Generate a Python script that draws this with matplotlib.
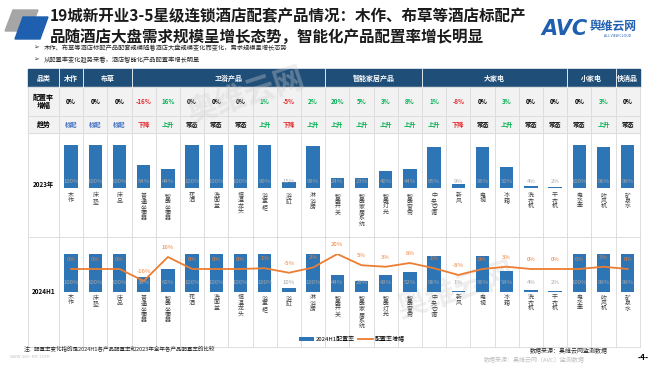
import matplotlib
matplotlib.use("Agg")
import matplotlib.pyplot as plt
from matplotlib.patches import Rectangle, Polygon
import numpy as np

plt.rcParams['font.family'] = ['Noto Sans CJK SC', 'DejaVu Sans']

# ---- data ----
products = ['木作', '床垫', '床品', '普通坐便器', '智能坐便器', '花洒', '洗面盆', '恒温龙头',
            '浴室柜', '浴缸', '淋浴房', '智能开关', '智能家居系统', '智能灯光', '智能窗帘',
            '中央空调', '新风', '电视', '冰箱', '洗衣机', '干衣机', '电水壶', '吹风机', '矿泉水']
groups = ['木作', '布草', '卫浴产品', '智能家居产品', '大家电', '小家电', '快消品']
group_sizes = [1, 2, 8, 4, 6, 2, 1]
rate_2023 = [100, 100, 100, 54, 44, 100, 100, 100, 99, 15, 98, 24, 23, 40, 44,
             95, 9, 96, 50, 4, 2, 100, 96, 99]
rate_2024h1 = [100, 100, 100, 38, 60, 100, 100, 100, 100, 10, 100, 44, 28, 43, 52,
               96, 1, 96, 54, 4, 2, 100, 99, 99]
rate_change = [0, 0, 0, -16, 16, 0, 0, 0, 1, -5, 2, 20, 5, 3, 8, 1, -8, 0, 3, 0, 0, 0, 3, 0]
trend = ['标配', '标配', '标配', '下降', '上升', '常态', '常态', '常态', '上升', '下降', '上升',
         '上升', '上升', '上升', '上升', '上升', '下降', '常态', '上升', '常态', '常态', '常态',
         '上升', '常态']

W, H = 660, 372
NAVY = '#1F4E79'
BLUE = '#2E75B6'
ORANGE = '#ED7D31'
GRID = '#D9D9D9'
GREEN = '#00B050'
RED = '#E8262A'
trend_col = {'标配': '#4472C4', '下降': RED, '上升': GREEN, '常态': '#000000'}

fig = plt.figure(figsize=(6.6, 3.72), dpi=100)
bg = fig.add_axes([0, 0, 1, 1])
bg.set_xlim(0, W)
bg.set_ylim(H, 0)
bg.axis('off')

# header decoration + title
bg.add_patch(Polygon([(13, 10), (38, 10), (30, 31), (5, 31)], color='#A6A6A6'))
bg.add_patch(Polygon([(23, 17), (48, 17), (40, 39), (15, 39)], color='#1F5FAF'))
bg.text(50, 16, '19城新开业3-5星级连锁酒店配套产品情况：木作、布草等酒店标配产',
        fontsize=11.2, fontweight='bold', va='center', color='#1a1a1a')
bg.text(50, 37, '品随酒店大盘需求规模呈增长态势，智能化产品配置率增长明显',
        fontsize=11.2, fontweight='bold', va='center', color='#1a1a1a')
bg.text(33, 48, '➢', fontsize=5, va='center', color='#404040')
bg.text(44, 48, '木作、布草等酒店标配产品配套规模随着酒店大盘规模变化而变化，需求规模呈增长态势',
        fontsize=4.5, va='center', color='#262626')
bg.text(33, 60, '➢', fontsize=5, va='center', color='#404040')
bg.text(44, 60, '从配置率变化趋势来看，酒店智能化产品配置率增长明显',
        fontsize=4.5, va='center', color='#262626')

# logo
bg.text(541, 29, 'AVC', fontsize=15, fontweight='bold', fontstyle='italic',
        color='#1F5FAF', va='center', family='DejaVu Sans')
bg.text(590, 26, '舆维云网', fontsize=8.5, fontweight='bold', color='#1F5FAF', va='center')
bg.text(604, 36, 'ALL VIEW CLOUD', fontsize=2.5, color='#1F5FAF', va='center')

# ---- table ----
X0, XC, CW = 28, 59, 24.2
n = len(products)
X1 = XC + n * CW
rows = [69, 87, 116, 133, 237, 347]

bg.add_patch(Rectangle((X0, rows[0]), X1 - X0, rows[1] - rows[0], color=NAVY))
bg.add_patch(Rectangle((X0, rows[1]), X1 - X0, rows[3] - rows[1], color='#F2F2F2'))

for k in range(n + 1):
    xl = XC + k * CW
    bg.plot([xl, xl], [rows[1], rows[5]], color=GRID, lw=0.6)
bg.plot([X0, X0], [rows[1], rows[5]], color=GRID, lw=0.6)
for y in rows[1:]:
    bg.plot([X0, X1], [y, y], color=GRID, lw=0.6)

# header groups
bg.text((X0 + XC) / 2, (rows[0] + rows[1]) / 2, '品类', color='white', fontsize=5,
        fontweight='bold', ha='center', va='center')
start = 0
for g, s in zip(groups, group_sizes):
    xa = XC + start * CW
    xb = XC + (start + s) * CW
    bg.plot([xa, xa], [rows[0], rows[1]], color='white', lw=0.6)
    bg.text((xa + xb) / 2, (rows[0] + rows[1]) / 2, g, color='white', fontsize=5,
            fontweight='bold', ha='center', va='center')
    start += s

bg.text((X0 + XC) / 2, (rows[1] + rows[2]) / 2, '配置率\n增幅', fontsize=5,
        fontweight='bold', ha='center', va='center', linespacing=1.1)
bg.text((X0 + XC) / 2, (rows[2] + rows[3]) / 2, '趋势', fontsize=5,
        fontweight='bold', ha='center', va='center')
bg.text((X0 + XC) / 2, 185, '2023年', fontsize=4.5, fontweight='bold', ha='center', va='center')
bg.text((X0 + XC) / 2, 291, '2024H1', fontsize=4.5, fontweight='bold', ha='center', va='center')

for i in range(n):
    cx = XC + (i + 0.5) * CW
    v = rate_change[i]
    c = GREEN if v > 0 else (RED if v < 0 else '#000000')
    bg.text(cx, (rows[1] + rows[2]) / 2, f'{v}%', fontsize=4.5, fontweight='bold',
            color=c, ha='center', va='center')
    bg.text(cx, (rows[2] + rows[3]) / 2, trend[i], fontsize=4.5, fontweight='bold',
            color=trend_col[trend[i]], ha='center', va='center')

x = np.arange(n)


def bar_axes(top, base):
    return fig.add_axes([XC / W, 1 - base / H, n * CW / W, (base - top) / H])


# ---- 2023 bars ----
ax1 = bar_axes(145, 188)
ax1.bar(x, rate_2023, width=0.55, color=BLUE)
ax1.set_xlim(-0.5, n - 0.5)
ax1.set_ylim(0, 100)
ax1.axis('off')
for i, v in enumerate(rate_2023):
    ax1.text(i, 16, f'{v}%', fontsize=4.3, color='#A6A6A6', ha='center', va='center')
    ax1.annotate('\n'.join(products[i]), (i, 0), xytext=(0, -3.5), textcoords='offset points',
                 ha='center', va='top', fontsize=4.3, linespacing=1.05, color='#404040',
                 annotation_clip=False)

# ---- 2024H1 bars + change line ----
ax2 = bar_axes(254, 291.7)
bars = ax2.bar(x, rate_2024h1, width=0.55, color=BLUE, label='2024H1配置率')
ax2.set_xlim(-0.5, n - 0.5)
ax2.set_ylim(0, 100)
ax2.axis('off')
for i, v in enumerate(rate_2024h1):
    ax2.text(i, 24, f'{v}%', fontsize=4.3, color='#A6A6A6', ha='center', va='center')
    ax2.annotate('\n'.join(products[i]), (i, 0), xytext=(0, -2.4), textcoords='offset points',
                 ha='center', va='top', fontsize=4.3, linespacing=1.05, color='#404040',
                 annotation_clip=False)

ax2b = ax2.twinx()
line, = ax2b.plot(x, rate_change, color=ORANGE, lw=1.3, label='配置率增幅')
ax2b.set_ylim(-30.3, 20)
ax2b.set_xlim(-0.5, n - 0.5)
ax2b.axis('off')
for i, v in enumerate(rate_change):
    ax2b.annotate(f'{v}%', (i, v), xytext=(0, 7), textcoords='offset points',
                  ha='center', va='center', fontsize=4.3, color=ORANGE,
                  annotation_clip=False)

fig.legend(handles=[bars, line], loc='center', bbox_to_anchor=(352 / W, 1 - 339 / H),
           ncol=2, frameon=False, fontsize=4.3, handlelength=2.6, handleheight=0.5,
           columnspacing=0.4, handletextpad=0.3)

# ---- footer ----
bg.text(24, 349, '注：配置率变化指的是2024H1各产品配置率和2023年全年各产品配置率的比较',
        fontsize=4, va='center', color='#262626')
bg.text(10, 356, 'www.avc-mr.com', fontsize=3.5, va='center', color='#C8C8C8')
bg.text(484, 360, '数据来源：奥维云网（AVC）监测数据', fontsize=4.3, va='center', color='#BFBFBF')
bg.text(530, 351, '数据来源：奥维云网监测数据', fontsize=4.3, va='center', color='#262626')
bg.text(643, 357, '-4-', fontsize=6, fontweight='bold', va='center', ha='center')

# faint watermarks
bg.text(245, 95, '奥维云网', fontsize=22, fontweight='bold', color='#D0D0D0', alpha=0.35,
        rotation=18, ha='center', va='center')
bg.text(455, 290, '奥维云网', fontsize=22, fontweight='bold', color='#D0D0D0', alpha=0.35,
        rotation=18, ha='center', va='center')

fig.savefig('out.png', dpi=100)
